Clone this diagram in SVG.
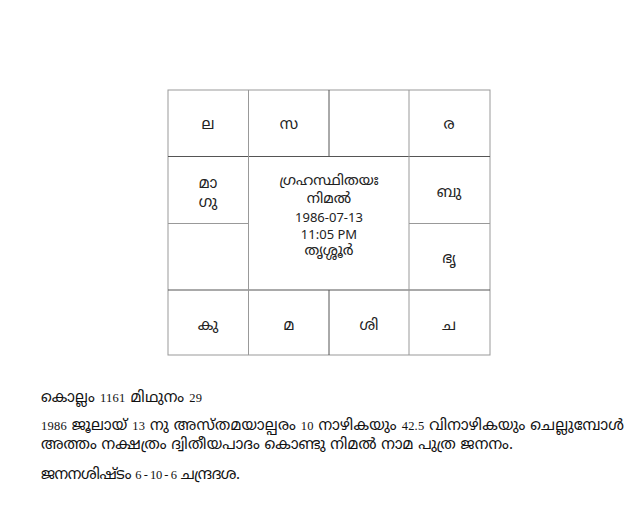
<svg xmlns="http://www.w3.org/2000/svg" width="640" height="523" viewBox="0 0 640 523">
<style>
.cell{font-family:"Noto Sans Malayalam","Noto Sans","Open Sans",sans-serif;font-size:15px;fill:#222;text-anchor:middle}
.ctr{font-size:14.5px}
.lat{font-family:"Noto Sans","Open Sans",sans-serif;font-size:13px;fill:#222;text-anchor:middle}
.grid{stroke:#999;stroke-width:1;fill:none}
.inner{stroke:#555;stroke-width:1;fill:none}
.note{font-family:"Noto Sans Malayalam","Liberation Serif",serif;font-size:15px;fill:#111}
.num{font-family:"Liberation Serif",serif;font-size:12.5px}
</style>
<rect width="640" height="523" fill="#fff"/>
<g id="connectors">
<rect class="grid" x="168" y="90" width="322" height="265"/>
<line class="inner" x1="168" y1="156.5" x2="490" y2="156.5"/>
<line class="inner" x1="168" y1="290" x2="490" y2="290"/>
<line class="grid" x1="168" y1="223.5" x2="248.5" y2="223.5"/>
<line class="grid" x1="409" y1="223.5" x2="490" y2="223.5"/>
<line class="grid" x1="248.5" y1="90" x2="248.5" y2="355"/>
<line class="grid" x1="409" y1="90" x2="409" y2="355"/>
<line class="inner" x1="329" y1="90" x2="329" y2="156.5"/>
<line class="inner" x1="329" y1="290" x2="329" y2="355"/>
</g>
<g id="cell-la"><text class="cell" x="208" y="129">ല</text></g>
<g id="cell-sa"><text class="cell" x="289" y="129">സ</text></g>
<g id="cell-ra"><text class="cell" x="449" y="129">ര</text></g>
<g id="cell-ma-gu"><text class="cell" x="208" y="188">മാ</text><text class="cell" x="208" y="207">ഗു</text></g>
<g id="center"><text class="cell ctr" x="329" y="185">ഗ്രഹസ്ഥിതയഃ</text><text class="cell ctr" x="329" y="202.5">നിമൽ</text><text class="lat" x="329" y="222">1986-07-13</text><text class="lat" x="329" y="239">11:05 PM</text><text class="cell ctr" x="329" y="255">തൃശ്ശൂർ</text></g>
<g id="cell-bu"><text class="cell" x="449" y="197">ബു</text></g>
<g id="cell-bhr"><text class="cell" x="449" y="263">ഭൃ</text></g>
<g id="cell-ku"><text class="cell" x="208" y="330">കു</text></g>
<g id="cell-m"><text class="cell" x="289" y="330">മ</text></g>
<g id="cell-shi"><text class="cell" x="369" y="330">ശി</text></g>
<g id="cell-cha"><text class="cell" x="449" y="330">ച</text></g>
<g id="notes">
<text class="note" x="41" y="402" textLength="161" lengthAdjust="spacing">കൊല്ലം <tspan class="num">1161</tspan> മിഥുനം <tspan class="num">29</tspan></text>
<text class="note" x="41" y="430" textLength="583" lengthAdjust="spacing"><tspan class="num">1986</tspan> ജൂലായ് <tspan class="num">13</tspan> നു അസ്തമയാല്പരം <tspan class="num">10</tspan> നാഴികയും <tspan class="num">42.5</tspan> വിനാഴികയും ചെല്ലുമ്പോൾ</text>
<text class="note" x="41" y="449" textLength="472" lengthAdjust="spacing">അത്തം നക്ഷത്രം ദ്വിതീയപാദം കൊണ്ടു നിമൽ നാമ പുത്ര ജനനം.</text>
<text class="note" x="41" y="479" textLength="199" lengthAdjust="spacing">ജനനശിഷ്ടം <tspan class="num">6 - 10 - 6</tspan> ചന്ദ്രദശ.</text>
</g>
</svg>
